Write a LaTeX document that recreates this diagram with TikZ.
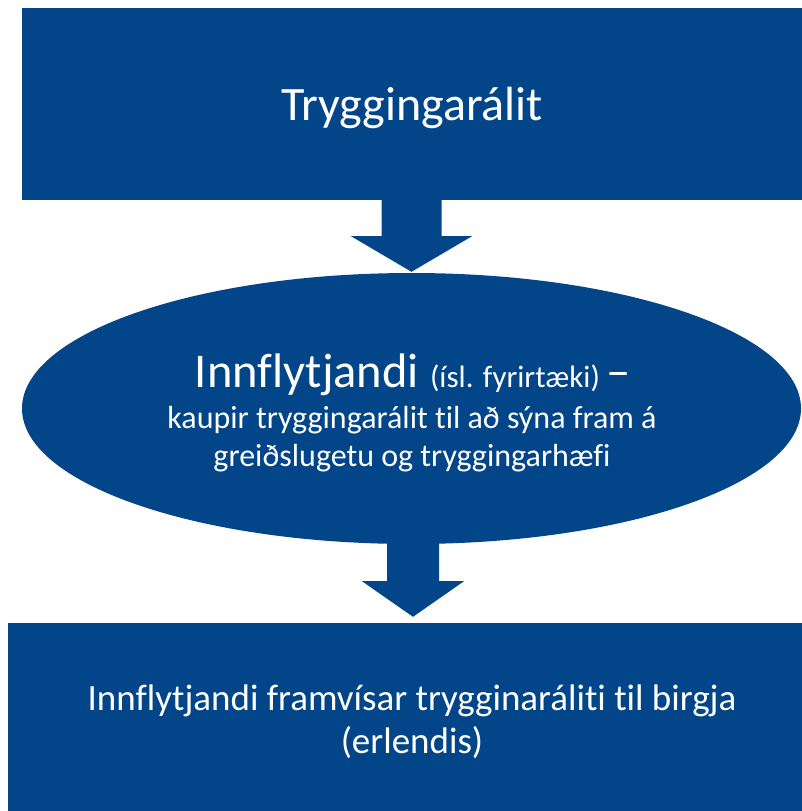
\documentclass[tikz,border=0pt]{standalone}
\usepackage{fontspec}
\setmainfont[Ligatures=NoCommon]{Carlito}
\usetikzlibrary{shapes.geometric,calc}
\definecolor{navy}{RGB}{2,69,136}
\begin{document}
\begin{tikzpicture}[x=1pt,y=-1pt,
  box/.style={rectangle, fill=navy, draw=none, inner sep=0pt},
  oval/.style={ellipse, fill=navy, draw=none, inner sep=0pt},
  blockarrow/.style={fill=navy, draw=none},
  txt/.style={text=white, inner sep=0pt, anchor=base}]
\useasboundingbox (0,0) rectangle (802,811);
% shapes
\node[box, minimum width=780pt, minimum height=192pt] (top) at (412,104) {};
\node[oval, minimum width=779pt, minimum height=271pt] (mid) at (411.5,408.5) {};
\node[box, minimum width=808pt, minimum height=200pt] (bot) at (412,723) {};
% block arrows
\coordinate (a1) at ($(top.south)+(-0.5,-2)$);
\coordinate (tip1) at ($(mid.north)+(0,-1)$);
\fill[blockarrow] ($(a1)+(-30,0)$) -- ($(a1)+(30,0)$) -- ($(a1)+(30,38)$) -- ($(a1)+(60.5,38)$)
  -- (tip1) -- ($(a1)+(-60.5,38)$) -- ($(a1)+(-30,38)$) -- cycle;
\coordinate (a2) at ($(mid.south)+(1.5,-4)$);
\coordinate (tip2) at ($(bot.north)+(1,-6)$);
\fill[blockarrow] ($(a2)+(-26,0)$) -- ($(a2)+(26,0)$) -- ($(a2)+(26,41)$) -- ($(a2)+(51,41)$)
  -- (tip2) -- ($(a2)+(-51,41)$) -- ($(a2)+(-26,41)$) -- cycle;
% texts
\node[txt, font=\fontsize{48}{58}\selectfont] (t1) at (412,120) {Tryggingarálit};
\node[txt] (m1) at (413,387) {{\fontsize{48.5}{58}\selectfont Innflytjandi\ }{\fontsize{31}{37}\selectfont (ísl. fyrirtæki)\ }{\fontsize{48.5}{58}\selectfont –}};
\node[txt, font=\fontsize{32}{38}\selectfont] (m2) at (412,428) {kaupir tryggingarálit til að sýna fram á};
\node[txt, font=\fontsize{32}{38}\selectfont] (m3) at (412,466) {greiðslugetu og tryggingarhæfi};
\node[txt, font=\fontsize{37}{44}\selectfont] (b1) at (412,710) {Innflytjandi framvísar trygginaráliti til birgja};
\node[txt, font=\fontsize{37}{44}\selectfont] (b2) at (412,753) {(erlendis)};
\end{tikzpicture}
\end{document}
